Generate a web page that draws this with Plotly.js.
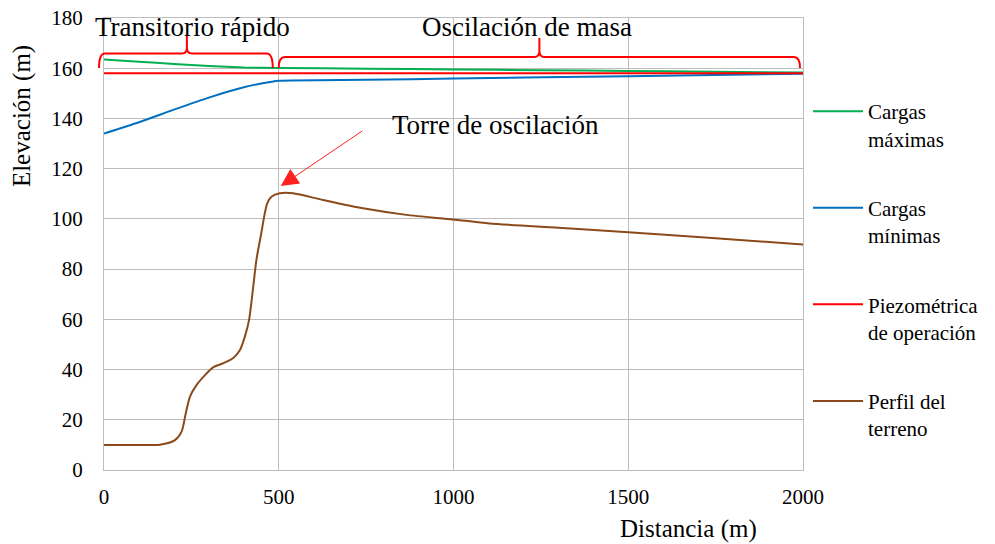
<!DOCTYPE html>
<html>
<head>
<meta charset="utf-8">
<script src="https://cdn.plot.ly/plotly-3.0.1.min.js"></script>
<style>
html,body{margin:0;padding:0;background:#fff;}
#chart{width:995px;height:544px;}
svg text{font-family:'Liberation Serif', serif !important;}
</style>
</head>
<body>
<div id="chart"></div>
<script>
// ---- Data ----
const seriesNames = ["Cargas<br>máximas", "Cargas<br>mínimas", "Piezométrica<br>de operación", "Perfil del<br>terreno"];

const maxX = [0, 100, 200, 300, 400, 500, 750, 1000, 1250, 1500, 1750, 2000];
const maxY = [163.5, 162.6, 161.7, 160.9, 160.3, 160.1, 159.8, 159.5, 159.2, 158.9, 158.6, 158.3];

const minX = [0, 100, 200, 300, 400, 450, 500, 750, 1000, 1500, 2000];
const minY = [134, 138.5, 143.5, 148.3, 152.4, 153.9, 155, 155.4, 155.9, 156.8, 157.8];

const piezoX = [0, 2000];
const piezoY = [158, 158];

const terrX = [0, 100, 160, 203, 222, 234, 246, 265, 289, 312, 341, 369, 389, 403, 415, 427, 436, 450, 460, 467, 479, 503, 541, 627, 741, 865, 998, 1103, 1300, 1500, 1750, 2000];
const terrY = [10, 10, 10.1, 11.9, 15.3, 22.6, 29.2, 33.9, 37.8, 40.9, 42.5, 44.5, 47.8, 53.1, 59.7, 73, 83.6, 94.3, 102.2, 106.2, 108.8, 110.2, 110.2, 107.5, 104.2, 101.6, 99.8, 98.2, 96.5, 94.7, 92.3, 89.8];

const xTicks = [0, 500, 1000, 1500, 2000];
const yTicks = [0, 20, 40, 60, 80, 100, 120, 140, 160, 180];

const colors = ["#00b050", "#0070c0", "#ff0000", "#8a4a1a"];

// ---- Layout geometry ----
const W = 995, H = 544;
const M = {l: 104, r: 191, t: 18, b: 74};
const PW = W - M.l - M.r, PH = H - M.t - M.b;
const px = v => (v - M.l) / PW;          // pixel x -> paper x
const py = v => (H - M.b - v) / PH;      // pixel y -> paper y

const FONT = "Liberation Serif";

const traces = [
  {x: maxX, y: maxY, name: seriesNames[0], legendgroup: "g1", mode: "lines", line: {color: colors[0], width: 2, shape: "spline", smoothing: 0.6}},
  {x: minX, y: minY, name: seriesNames[1], legendgroup: "g2", mode: "lines", line: {color: colors[1], width: 2, shape: "spline", smoothing: 0.6}},
  {x: piezoX, y: piezoY, name: seriesNames[2], legendgroup: "g3", mode: "lines", line: {color: colors[2], width: 2}},
  {x: terrX, y: terrY, name: seriesNames[3], legendgroup: "g4", mode: "lines", line: {color: colors[3], width: 2, shape: "spline", smoothing: 0.7}}
];

function bracePath(x0, x1, xt, yh, yend, ytip) {
  const pts = [
    ["M", x0, yend],
    ["Q", x0, yh, x0 + 6, yh],
    ["L", xt - 5, yh],
    ["Q", xt, yh, xt, yh - 6],
    ["L", xt, ytip],
    ["L", xt, yh - 6],
    ["Q", xt, yh, xt + 5, yh],
    ["L", x1 - 6, yh],
    ["Q", x1, yh, x1, yend]
  ];
  return pts.map(p => {
    let s = p[0];
    for (let i = 1; i < p.length; i += 2) s += " " + px(p[i]).toFixed(5) + "," + py(p[i + 1]).toFixed(5);
    return s;
  }).join(" ");
}

const layout = {
  width: W, height: H,
  margin: M,
  paper_bgcolor: "#fff", plot_bgcolor: "#fff",
  font: {family: FONT, size: 21, color: "#000"},
  showlegend: true,
  legend: {
    x: px(808), y: py(91), xanchor: "left", yanchor: "top",
    font: {family: FONT, size: 21, color: "#000"},
    tracegroupgap: 39, valign: "top", itemwidth: 50,
    bgcolor: "rgba(0,0,0,0)"
  },
  xaxis: {
    range: [0, 2000], tickvals: xTicks, ticktext: xTicks.map(String),
    showgrid: true, gridcolor: "#bdbdbd", gridwidth: 1,
    showline: true, linecolor: "#bdbdbd", linewidth: 1, mirror: true,
    zeroline: false, ticks: "", ticklabelstandoff: 8,
    tickfont: {family: FONT, size: 21, color: "#000"}, fixedrange: true
  },
  yaxis: {
    range: [0, 180], tickvals: yTicks, ticktext: yTicks.map(String),
    showgrid: true, gridcolor: "#bdbdbd", gridwidth: 1,
    showline: true, linecolor: "#bdbdbd", linewidth: 1, mirror: true,
    zeroline: false, ticks: "", ticklabelstandoff: 16,
    tickfont: {family: FONT, size: 21, color: "#000"}, fixedrange: true
  },
  shapes: [
    {type: "path", xref: "paper", yref: "paper", path: bracePath(99, 273, 187, 53.5, 68, 34), line: {color: "#ff0000", width: 2}},
    {type: "path", xref: "paper", yref: "paper", path: bracePath(279, 801, 540, 57, 68, 38), line: {color: "#ff0000", width: 2}}
  ],
  annotations: [
    {xref: "paper", yref: "paper", x: px(193), y: py(27), text: "Transitorio rápido", showarrow: false, xanchor: "center", yanchor: "middle", font: {family: FONT, size: 27, color: "#000"}},
    {xref: "paper", yref: "paper", x: px(528), y: py(27), text: "Oscilación de masa", showarrow: false, xanchor: "center", yanchor: "middle", font: {family: FONT, size: 27, color: "#000"}},
    {xref: "paper", yref: "paper", x: px(496), y: py(125), text: "Torre de oscilación", showarrow: false, xanchor: "center", yanchor: "middle", font: {family: FONT, size: 27, color: "#000"}},
    {xref: "paper", yref: "paper", x: px(281), y: py(186), text: "", showarrow: true, axref: "pixel", ayref: "pixel", ax: 83, ay: -56, arrowhead: 2, arrowsize: 3.5, arrowwidth: 1, arrowcolor: "#ff2020", standoff: 0},
    {xref: "paper", yref: "paper", x: px(689), y: py(529), text: "Distancia (m)", showarrow: false, xanchor: "center", yanchor: "middle", font: {family: FONT, size: 25, color: "#000"}},
    {xref: "paper", yref: "paper", x: px(22), y: py(116), text: "Elevación (m)", textangle: -90, showarrow: false, xanchor: "center", yanchor: "middle", font: {family: FONT, size: 25, color: "#000"}}
  ]
};

Plotly.newPlot("chart", traces, layout, {displayModeBar: false, staticPlot: true});
</script>
</body>
</html>
